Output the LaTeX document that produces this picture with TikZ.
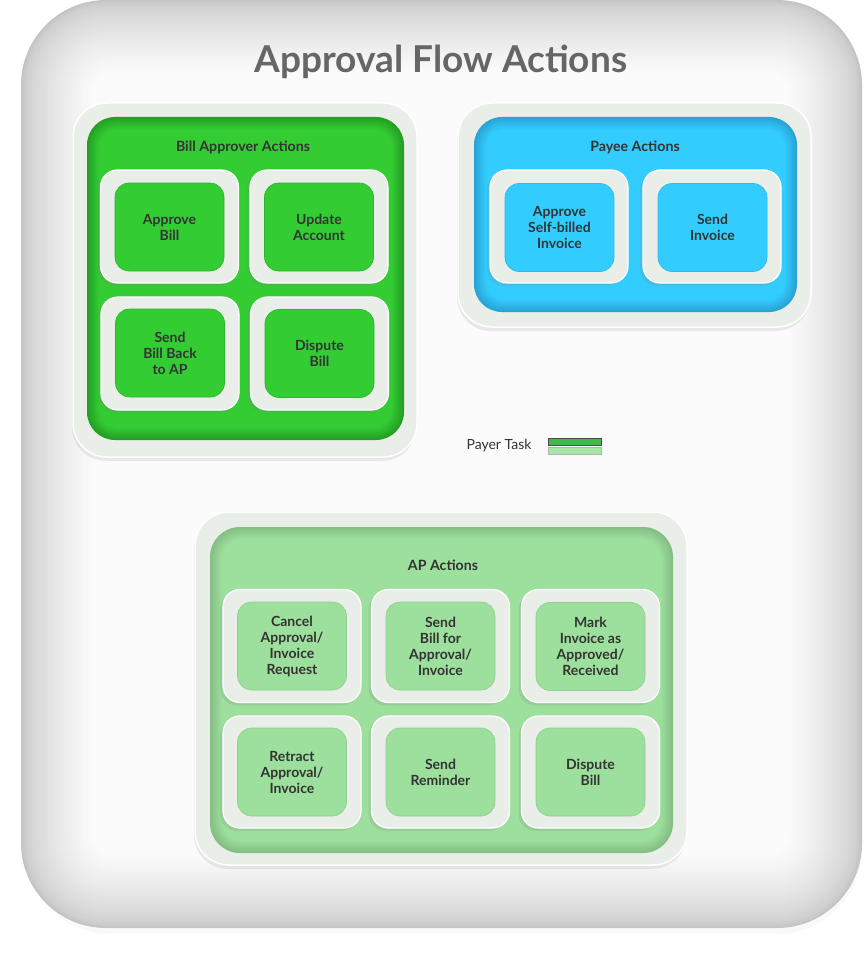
\documentclass[tikz,border=0pt]{standalone}
\usepackage{fontspec}
\setmainfont{Lato}
\usetikzlibrary{shadows}
\definecolor{txt}{HTML}{333333}
\definecolor{titlegray}{HTML}{666666}
\definecolor{framec}{HTML}{E9EEE9}
\definecolor{gA}{HTML}{33CC33}
\definecolor{gAd}{HTML}{249E24}
\definecolor{bA}{HTML}{33CCFF}
\definecolor{bAd}{HTML}{28A3D3}
\definecolor{lA}{HTML}{9DE09D}
\definecolor{lAd}{HTML}{84BD84}
\definecolor{bgedge}{HTML}{C4C4C4}
\definecolor{bgmid}{HTML}{FBFBFB}
\definecolor{legdark}{HTML}{3DB84A}
\definecolor{leglight}{HTML}{A8E6A8}
\tikzset{
 pframe/.style={draw=white, line width=1.5pt, fill=framec, rounded corners=34pt, inner sep=0pt,
   drop shadow={shadow xshift=-1pt, shadow yshift=-4pt, opacity=0.15}},
 sframe/.style={draw=white, line width=1.2pt, fill=framec, rounded corners=17pt,
   minimum width=138pt, minimum height=113pt, inner sep=0pt,
   drop shadow={shadow xshift=-3pt, shadow yshift=-3pt, opacity=0.18}},
 cell/.style={rounded corners=14pt, minimum width=109pt, minimum height=88pt, inner sep=0pt,
   align=center, text=txt, font=\fontsize{14}{16}\selectfont\bfseries, line width=0.6pt},
 gcell/.style={cell, fill=gA, draw=gAd!50!gA},
 bcell/.style={cell, fill=bA, draw=bAd!50!bA},
 lcell/.style={cell, fill=lA, draw=lAd!50!lA},
 ptitle/.style={text=txt, font=\fontsize{14.2}{16}\selectfont\bfseries, inner sep=0pt},
}
\newcommand{\shadedpanel}[7]{%
  \foreach \i in {0,...,12}{%
    \pgfmathtruncatemacro\pp{\i*100/12}%
    \pgfmathsetmacro\rr{#5-\i*0.8}%
    \fill[#7!\pp!#6, rounded corners=\rr pt] ({#1+\i},{#2+\i}) rectangle ({#3-\i},{#4-\i});
  }%
}
\begin{document}
\begin{tikzpicture}[x=1pt,y=-1pt]
\useasboundingbox (0,0) rectangle (863,955);
% background pillow
\fill[black, opacity=0.025, rounded corners=85pt] (26,6) rectangle (862,934);
\foreach \i in {0,...,40}{%
  \pgfmathtruncatemacro\pp{100*(\i/40)^0.6}%
  \pgfmathsetmacro\rr{max(85-1.6*\i,20)}%
  \pgfmathsetmacro\dd{\i*1.8}%
  \fill[bgmid!\pp!bgedge, rounded corners=\rr pt] ({21+\dd},{0+\dd}) rectangle ({862-\dd},{928-\dd});
}
\node[text=titlegray, font=\fontsize{37}{42}\selectfont\bfseries] (title) at (441,62) {Approval Flow Actions};

% Bill Approver Actions
\node[pframe, minimum width=344pt, minimum height=354pt] (baframe) at (245,280) {};
\shadedpanel{87}{117}{404}{440}{28}{gAd}{gA}
\node[ptitle] (batitle) at (243,147) {Bill Approver Actions};
\node[sframe] (baf1) at (169.5,226.5) {};
\node[gcell] (ba1) at (169.5,227) {Approve\\Bill};
\node[sframe] (baf2) at (319,226.5) {};
\node[gcell] (ba2) at (319,227) {Update\\Account};
\node[sframe] (baf3) at (170,353.5) {};
\node[gcell] (ba3) at (170,353) {Send\\Bill Back\\to AP};
\node[sframe] (baf4) at (319.5,353.5) {};
\node[gcell] (ba4) at (319.5,353.5) {Dispute\\Bill};

% Payee Actions
\node[pframe, minimum width=353pt, minimum height=224pt] (pyframe) at (634.5,215) {};
\shadedpanel{474}{117}{797}{312}{28}{bAd}{bA}
\node[ptitle] (pytitle) at (635,147) {Payee Actions};
\node[sframe] (pyf1) at (559,226.5) {};
\node[bcell] (py1) at (559.5,227.5) {Approve\\Self-billed\\Invoice};
\node[sframe] (pyf2) at (712,226.5) {};
\node[bcell] (py2) at (712.5,227.5) {Send\\Invoice};

% Legend
\node[text=txt, font=\fontsize{14}{16}\selectfont, inner sep=0pt] (legtxt) at (499,446) {Payer Task};
\node[draw=black!70, fill=legdark, minimum width=53pt, minimum height=7pt, inner sep=0pt, line width=0.6pt] (leg1) at (574.5,441.5) {};
\node[draw=black!30, fill=leglight, minimum width=53pt, minimum height=7pt, inner sep=0pt, line width=0.6pt] (leg2) at (574.5,450.5) {};

% AP Actions
\node[pframe, minimum width=492pt, minimum height=353pt] (apframe) at (441,688.5) {};
\shadedpanel{210}{527}{673}{853}{30}{lAd}{lA}
\node[ptitle] (aptitle) at (443,565) {AP Actions};
\node[sframe] (apf1) at (292,646) {};
\node[lcell] (ap1) at (292,646) {Cancel\\Approval/\\Invoice\\Request};
\node[sframe] (apf2) at (440.5,646) {};
\node[lcell] (ap2) at (440.5,646) {Send\\Bill for\\Approval/\\Invoice};
\node[sframe] (apf3) at (590.5,646) {};
\node[lcell] (ap3) at (590.5,646.5) {Mark\\Invoice as\\Approved/\\Received};
\node[sframe, minimum height=112pt] (apf4) at (292,772) {};
\node[lcell] (ap4) at (292,772) {Retract\\Approval/\\Invoice};
\node[sframe, minimum height=112pt] (apf5) at (440.5,772) {};
\node[lcell] (ap5) at (440.5,772) {Send\\Reminder};
\node[sframe, minimum height=112pt] (apf6) at (590.5,772) {};
\node[lcell] (ap6) at (590.5,772) {Dispute\\Bill};
\end{tikzpicture}
\end{document}
